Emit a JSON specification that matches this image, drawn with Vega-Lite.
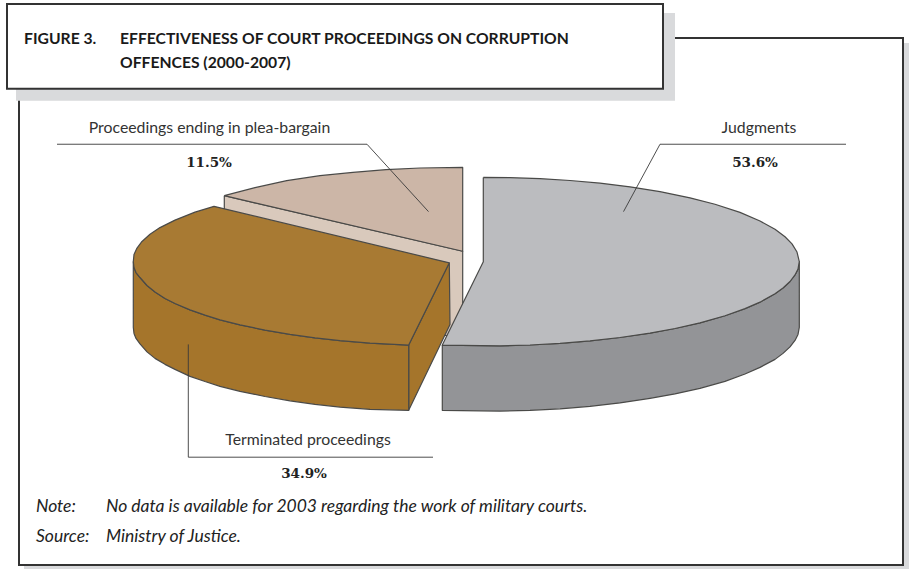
{
"$schema":"https://vega.github.io/schema/vega-lite/v6.json",
"width":909,"height":569,"padding":0,"autosize":{"type":"fit","contains":"padding"},"background":"white",
"config":{"view":{"stroke":null}},
"resolve":{"scale":{"fill":"independent","stroke":"independent"}},
"datasets":{
"panels":[
{"panel":"frame shadow","x":25,"x2":908,"y":44,"y2":569},
{"panel":"frame","x":19,"x2":903,"y":38,"y2":566},
{"panel":"title shadow","x":17,"x2":674,"y":14,"y2":100},
{"panel":"title box","x":7,"x2":663,"y":4,"y2":89}
],
"shapes":[
{"part":"Plea side","s":1,"x":224.3,"y":196},{"part":"Plea side","s":2,"x":462.7,"y":251.7},{"part":"Plea side","s":3,"x":462.7,"y":340},{"part":"Plea side","s":4,"x":224.3,"y":285},{"part":"Plea side","s":5,"x":224.3,"y":196},
{"part":"Plea top","s":1,"x":224.3,"y":196},{"part":"Plea top","s":2,"x":255,"y":188},{"part":"Plea top","s":3,"x":286.7,"y":181},{"part":"Plea top","s":4,"x":320,"y":176},{"part":"Plea top","s":5,"x":353,"y":172.7},{"part":"Plea top","s":6,"x":386,"y":170},{"part":"Plea top","s":7,"x":420,"y":168.3},{"part":"Plea top","s":8,"x":462.7,"y":167.7},{"part":"Plea top","s":9,"x":462.7,"y":251.7},{"part":"Plea top","s":10,"x":224.3,"y":196},
{"part":"Terminated cut","s":1,"x":408.7,"y":345.7},{"part":"Terminated cut","s":2,"x":449.3,"y":263.3},{"part":"Terminated cut","s":3,"x":450,"y":325},{"part":"Terminated cut","s":4,"x":408.7,"y":411},{"part":"Terminated cut","s":5,"x":408.7,"y":345.7},
{"part":"Terminated side","s":1,"x":133.3,"y":262},{"part":"Terminated side","s":2,"x":134,"y":268},{"part":"Terminated side","s":3,"x":136,"y":273},{"part":"Terminated side","s":4,"x":140,"y":278},{"part":"Terminated side","s":5,"x":147,"y":286},{"part":"Terminated side","s":6,"x":155,"y":292.5},{"part":"Terminated side","s":7,"x":165,"y":299},{"part":"Terminated side","s":8,"x":175,"y":304},{"part":"Terminated side","s":9,"x":190,"y":310.4},{"part":"Terminated side","s":10,"x":205,"y":315.7},{"part":"Terminated side","s":11,"x":220,"y":320.5},{"part":"Terminated side","s":12,"x":240,"y":325.4},{"part":"Terminated side","s":13,"x":265,"y":330.7},{"part":"Terminated side","s":14,"x":290,"y":335},{"part":"Terminated side","s":15,"x":315,"y":338.5},{"part":"Terminated side","s":16,"x":340,"y":341.3},{"part":"Terminated side","s":17,"x":370,"y":343.8},{"part":"Terminated side","s":18,"x":408.7,"y":345.7},{"part":"Terminated side","s":19,"x":408.7,"y":411},{"part":"Terminated side","s":20,"x":370,"y":410},{"part":"Terminated side","s":21,"x":340,"y":407.8},{"part":"Terminated side","s":22,"x":315,"y":405},{"part":"Terminated side","s":23,"x":290,"y":401.5},{"part":"Terminated side","s":24,"x":265,"y":397.2},{"part":"Terminated side","s":25,"x":240,"y":392},{"part":"Terminated side","s":26,"x":220,"y":387},{"part":"Terminated side","s":27,"x":205,"y":382.2},{"part":"Terminated side","s":28,"x":190,"y":377},{"part":"Terminated side","s":29,"x":175,"y":370},{"part":"Terminated side","s":30,"x":165,"y":365},{"part":"Terminated side","s":31,"x":155,"y":359},{"part":"Terminated side","s":32,"x":147,"y":352.5},{"part":"Terminated side","s":33,"x":140,"y":344.5},{"part":"Terminated side","s":34,"x":136,"y":339},{"part":"Terminated side","s":35,"x":134,"y":334},{"part":"Terminated side","s":36,"x":133.3,"y":328},{"part":"Terminated side","s":37,"x":133.3,"y":262},
{"part":"Terminated top","s":1,"x":449.3,"y":263.3},{"part":"Terminated top","s":2,"x":214,"y":206.7},{"part":"Terminated top","s":3,"x":195,"y":212.5},{"part":"Terminated top","s":4,"x":175,"y":220.5},{"part":"Terminated top","s":5,"x":160,"y":228},{"part":"Terminated top","s":6,"x":150,"y":234.6},{"part":"Terminated top","s":7,"x":142,"y":241.9},{"part":"Terminated top","s":8,"x":137,"y":248.5},{"part":"Terminated top","s":9,"x":134,"y":255},{"part":"Terminated top","s":10,"x":133.3,"y":262},{"part":"Terminated top","s":11,"x":134,"y":268},{"part":"Terminated top","s":12,"x":136,"y":273},{"part":"Terminated top","s":13,"x":140,"y":278},{"part":"Terminated top","s":14,"x":147,"y":286},{"part":"Terminated top","s":15,"x":155,"y":292.5},{"part":"Terminated top","s":16,"x":165,"y":299},{"part":"Terminated top","s":17,"x":175,"y":304},{"part":"Terminated top","s":18,"x":190,"y":310.4},{"part":"Terminated top","s":19,"x":205,"y":315.7},{"part":"Terminated top","s":20,"x":220,"y":320.5},{"part":"Terminated top","s":21,"x":240,"y":325.4},{"part":"Terminated top","s":22,"x":265,"y":330.7},{"part":"Terminated top","s":23,"x":290,"y":335},{"part":"Terminated top","s":24,"x":315,"y":338.5},{"part":"Terminated top","s":25,"x":340,"y":341.3},{"part":"Terminated top","s":26,"x":370,"y":343.8},{"part":"Terminated top","s":27,"x":408.7,"y":345.7},{"part":"Terminated top","s":28,"x":449.3,"y":263.3},
{"part":"Judgments side","s":1,"x":442.3,"y":345.7},{"part":"Judgments side","s":2,"x":500,"y":346.4},{"part":"Judgments side","s":3,"x":530,"y":345.6},{"part":"Judgments side","s":4,"x":560,"y":344},{"part":"Judgments side","s":5,"x":590,"y":341.5},{"part":"Judgments side","s":6,"x":620,"y":338.1},{"part":"Judgments side","s":7,"x":650,"y":333.7},{"part":"Judgments side","s":8,"x":675,"y":329.1},{"part":"Judgments side","s":9,"x":700,"y":323.4},{"part":"Judgments side","s":10,"x":725,"y":316.3},{"part":"Judgments side","s":11,"x":745,"y":309.2},{"part":"Judgments side","s":12,"x":760,"y":302.7},{"part":"Judgments side","s":13,"x":775,"y":294.3},{"part":"Judgments side","s":14,"x":783,"y":288.5},{"part":"Judgments side","s":15,"x":790,"y":282},{"part":"Judgments side","s":16,"x":795,"y":275.4},{"part":"Judgments side","s":17,"x":798,"y":269.6},{"part":"Judgments side","s":18,"x":799.3,"y":262},{"part":"Judgments side","s":19,"x":799.3,"y":328},{"part":"Judgments side","s":20,"x":798,"y":335},{"part":"Judgments side","s":21,"x":795,"y":341},{"part":"Judgments side","s":22,"x":790,"y":347.5},{"part":"Judgments side","s":23,"x":783,"y":354},{"part":"Judgments side","s":24,"x":775,"y":360},{"part":"Judgments side","s":25,"x":760,"y":368},{"part":"Judgments side","s":26,"x":745,"y":374.7},{"part":"Judgments side","s":27,"x":725,"y":382},{"part":"Judgments side","s":28,"x":700,"y":389},{"part":"Judgments side","s":29,"x":675,"y":394.6},{"part":"Judgments side","s":30,"x":650,"y":399},{"part":"Judgments side","s":31,"x":620,"y":403.6},{"part":"Judgments side","s":32,"x":590,"y":407},{"part":"Judgments side","s":33,"x":560,"y":409.5},{"part":"Judgments side","s":34,"x":530,"y":411},{"part":"Judgments side","s":35,"x":500,"y":411.8},{"part":"Judgments side","s":36,"x":442.3,"y":411},{"part":"Judgments side","s":37,"x":442.3,"y":345.7},
{"part":"Judgments top","s":1,"x":483.3,"y":177.7},{"part":"Judgments top","s":2,"x":510,"y":178},{"part":"Judgments top","s":3,"x":540,"y":178.9},{"part":"Judgments top","s":4,"x":570,"y":180.8},{"part":"Judgments top","s":5,"x":600,"y":183.5},{"part":"Judgments top","s":6,"x":630,"y":187.2},{"part":"Judgments top","s":7,"x":660,"y":192},{"part":"Judgments top","s":8,"x":690,"y":198.2},{"part":"Judgments top","s":9,"x":715,"y":204.6},{"part":"Judgments top","s":10,"x":740,"y":212.8},{"part":"Judgments top","s":11,"x":760,"y":221.4},{"part":"Judgments top","s":12,"x":775,"y":229.7},{"part":"Judgments top","s":13,"x":785,"y":237.2},{"part":"Judgments top","s":14,"x":792,"y":244.3},{"part":"Judgments top","s":15,"x":797,"y":252.5},{"part":"Judgments top","s":16,"x":799.3,"y":262},{"part":"Judgments top","s":17,"x":798,"y":269.6},{"part":"Judgments top","s":18,"x":795,"y":275.4},{"part":"Judgments top","s":19,"x":790,"y":282},{"part":"Judgments top","s":20,"x":783,"y":288.5},{"part":"Judgments top","s":21,"x":775,"y":294.3},{"part":"Judgments top","s":22,"x":760,"y":302.7},{"part":"Judgments top","s":23,"x":745,"y":309.2},{"part":"Judgments top","s":24,"x":725,"y":316.3},{"part":"Judgments top","s":25,"x":700,"y":323.4},{"part":"Judgments top","s":26,"x":675,"y":329.1},{"part":"Judgments top","s":27,"x":650,"y":333.7},{"part":"Judgments top","s":28,"x":620,"y":338.1},{"part":"Judgments top","s":29,"x":590,"y":341.5},{"part":"Judgments top","s":30,"x":560,"y":344},{"part":"Judgments top","s":31,"x":530,"y":345.6},{"part":"Judgments top","s":32,"x":500,"y":346.4},{"part":"Judgments top","s":33,"x":442.3,"y":345.7},{"part":"Judgments top","s":34,"x":483.3,"y":262.3},{"part":"Judgments top","s":35,"x":483.3,"y":177.7}
],
"leaders":[
{"leader":"Plea","s":1,"x":57,"y":144.5},{"leader":"Plea","s":2,"x":367,"y":144.5},{"leader":"Plea","s":3,"x":428.5,"y":212},
{"leader":"Judgments","s":1,"x":846,"y":144.5},{"leader":"Judgments","s":2,"x":660,"y":144.5},{"leader":"Judgments","s":3,"x":623.5,"y":212},
{"leader":"Terminated","s":1,"x":188.3,"y":345},{"leader":"Terminated","s":2,"x":188.3,"y":458},{"leader":"Terminated","s":3,"x":433,"y":458}
],
"labels":[
{"text":"Proceedings ending in plea-bargain","x":209.5,"y":133},
{"text":"Judgments","x":759,"y":133},
{"text":"Terminated proceedings","x":308,"y":446}
],
"shares":[
{"slice":"Proceedings ending in plea-bargain","share":"11.5%","x":209,"y":167},
{"slice":"Judgments","share":"53.6%","x":755,"y":167},
{"slice":"Terminated proceedings","share":"34.9%","x":304,"y":479}
],
"notes":[
{"text":"Note:","x":36,"y":513},
{"text":"No data is available for 2003 regarding the work of military courts.","x":106,"y":513},
{"text":"Source:","x":36,"y":543},
{"text":"Ministry of Justice.","x":106,"y":543}
],
"titles":[
{"text":"FIGURE 3.","x":24,"y":44},
{"text":"EFFECTIVENESS OF COURT PROCEEDINGS ON CORRUPTION","x":120,"y":44},
{"text":"OFFENCES (2000-2007)","x":120,"y":68}
]
},
"layer":[
{"data":{"name":"panels"},"mark":{"type":"rect","strokeWidth":2},
"encoding":{
"x":{"field":"x","type":"quantitative","scale":{"domain":[0,909],"nice":false,"zero":false},"axis":null},
"x2":{"field":"x2"},
"y":{"field":"y","type":"quantitative","scale":{"domain":[569,0],"nice":false,"zero":false},"axis":null},
"y2":{"field":"y2"},
"fill":{"field":"panel","type":"nominal","legend":null,"scale":{"domain":["frame shadow","frame","title shadow","title box"],"range":["#d9dadc","#ffffff","#d9dadc","#ffffff"]}},
"stroke":{"field":"panel","type":"nominal","legend":null,"scale":{"domain":["frame shadow","frame","title shadow","title box"],"range":["#d9dadc","#333333","#d9dadc","#333333"]}},
"order":{"field":"y2","sort":"descending"}
}},
{"data":{"name":"shapes"},"mark":{"type":"line","strokeWidth":1.2,"stroke":"#4a4a48","strokeJoin":"round","filled":true,"interpolate":"linear"},
"encoding":{
"x":{"field":"x","type":"quantitative"},
"y":{"field":"y","type":"quantitative"},
"detail":{"field":"part"},
"order":{"field":"s","type":"quantitative"},
"fill":{"field":"part","type":"nominal","legend":null,"sort":null,"scale":{"domain":["Plea side","Plea top","Terminated cut","Terminated side","Terminated top","Judgments side","Judgments top"],"range":["#d9c9bc","#ccb6a7","#a5752b","#a5752b","#a87a33","#939497","#bbbcbf"]}}
}},
{"data":{"name":"leaders"},"mark":{"type":"line","stroke":"#3a3a3a","strokeWidth":0.9},
"encoding":{"x":{"field":"x","type":"quantitative"},"y":{"field":"y","type":"quantitative"},"detail":{"field":"leader"},"order":{"field":"s","type":"quantitative"}}},
{"data":{"name":"labels"},"mark":{"type":"text","font":"Lato","fontSize":15.8,"color":"#333333","align":"center","baseline":"alphabetic"},
"encoding":{"x":{"field":"x","type":"quantitative"},"y":{"field":"y","type":"quantitative"},"text":{"field":"text"}}},
{"data":{"name":"shares"},"mark":{"type":"text","font":"DejaVu Serif","fontWeight":"bold","fontSize":13.5,"color":"#222222","align":"center","baseline":"alphabetic"},
"encoding":{"x":{"field":"x","type":"quantitative"},"y":{"field":"y","type":"quantitative"},"text":{"field":"share"}}},
{"data":{"name":"notes"},"mark":{"type":"text","font":"Lato","fontStyle":"italic","fontSize":17.5,"color":"#222222","align":"left","baseline":"alphabetic"},
"encoding":{"x":{"field":"x","type":"quantitative"},"y":{"field":"y","type":"quantitative"},"text":{"field":"text"}}},
{"data":{"name":"titles"},"mark":{"type":"text","font":"Lato","fontWeight":"bold","fontSize":15.7,"color":"#1a1a1a","align":"left","baseline":"alphabetic"},
"encoding":{"x":{"field":"x","type":"quantitative"},"y":{"field":"y","type":"quantitative"},"text":{"field":"text"}}}
]
}
